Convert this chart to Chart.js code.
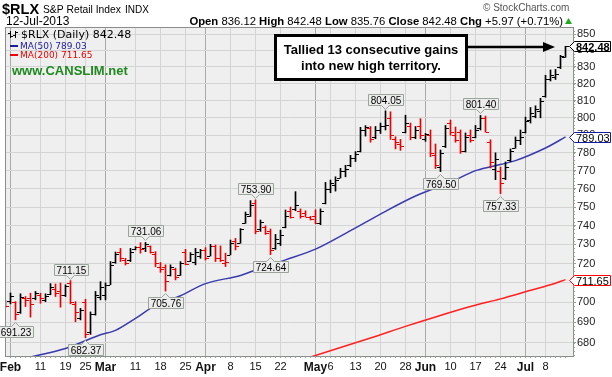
<!DOCTYPE html>
<html>
<head>
<meta charset="utf-8">
<script src="https://cdn.jsdelivr.net/npm/chart.js@4.4.0/dist/chart.umd.min.js"></script>
<style>
html, body { margin: 0; padding: 0; background: #fff; }
canvas { display: block; }
</style>
</head>
<body>
<canvas id="chart" width="612" height="377"></canvas>
<script>
// trading days shown, Jan 31 .. Jul 12 2013
const dates = ['1/31','2/1','2/4','2/5','2/6','2/7','2/8','2/11','2/12','2/13','2/14','2/15','2/19','2/20','2/21','2/22','2/25','2/26','2/27','2/28',
  '3/1','3/4','3/5','3/6','3/7','3/8','3/11','3/12','3/13','3/14','3/15','3/18','3/19','3/20','3/21','3/22','3/25','3/26','3/27','3/28',
  '4/1','4/2','4/3','4/4','4/5','4/8','4/9','4/10','4/11','4/12','4/15','4/16','4/17','4/18','4/19','4/22','4/23','4/24','4/25','4/26','4/29','4/30',
  '5/1','5/2','5/3','5/6','5/7','5/8','5/9','5/10','5/13','5/14','5/15','5/16','5/17','5/20','5/21','5/22','5/23','5/24','5/28','5/29','5/30','5/31',
  '6/3','6/4','6/5','6/6','6/7','6/10','6/11','6/12','6/13','6/14','6/17','6/18','6/19','6/20','6/21','6/24','6/25','6/26','6/27','6/28',
  '7/1','7/2','7/3','7/5','7/8','7/9','7/10','7/11','7/12'];

const opens = [699.5,700.5,700.0,695.0,702.0,702.5,702.0,704.0,701.0,704.5,707.0,706.0,704.0,710.0,699.0,692.0,700.0,685.0,694.0,703.0,
  704.0,709.0,721.0,726.0,722.0,722.0,727.5,728.5,728.0,729.0,725.0,718.0,718.0,714.0,717.0,714.0,726.0,721.5,721.0,724.0,
  727.0,724.0,729.0,723.0,720.0,724.5,732.0,731.0,741.5,745.0,752.0,738.0,739.0,737.0,728.0,731.0,739.0,748.0,749.0,748.0,747.0,744.5,
  745.0,741.5,752.0,760.0,762.0,766.0,770.0,773.0,777.0,781.0,793.0,794.0,789.0,793.0,795.0,800.0,788.0,785.0,792.0,795.0,789.0,795.0,
  788.0,790.0,779.0,772.0,784.0,797.0,790.0,792.0,781.0,790.0,789.0,794.0,800.0,786.0,771.0,770.0,766.0,776.0,783.0,787.0,
  792.0,799.0,801.0,804.0,813.0,823.0,824.0,830.0,836.12];
const highs = [701.0,704.8,700.4,704.4,703.0,704.7,705.6,704.7,704.4,709.6,709.4,709.9,709.0,711.15,700.4,697.0,701.6,695.2,705.6,710.6,
  710.0,721.0,726.0,727.9,722.7,727.9,728.8,730.9,731.06,729.2,726.2,720.5,719.3,719.3,717.6,721.0,727.4,725.7,727.9,727.4,
  728.3,730.0,729.7,729.2,725.4,732.3,733.2,738.4,747.3,753.5,753.90,743.0,739.9,738.2,735.3,737.6,748.4,750.0,758.4,749.0,748.0,745.0,
  748.5,749.0,763.5,764.8,766.6,771.3,773.0,778.6,780.7,794.5,795.5,795.0,795.0,797.0,804.05,803.5,789.1,787.6,801.5,797.0,795.0,799.5,
  791.0,793.0,785.0,781.6,795.6,798.7,794.7,793.0,791.3,793.0,795.6,801.40,801.0,787.4,780.0,772.0,774.9,782.2,789.0,793.0,
  800.4,806.0,807.0,811.4,825.0,828.2,828.5,837.0,842.48];
const lows = [697.5,699.3,691.23,694.5,697.9,692.6,701.3,699.6,700.4,703.9,703.0,697.6,703.0,699.3,690.3,691.2,682.37,684.0,693.6,701.3,
  701.3,709.0,720.1,721.0,719.2,721.0,727.1,725.4,726.2,725.4,718.4,715.4,705.76,713.5,711.5,713.8,719.3,721.0,719.3,722.7,
  721.8,723.9,721.0,721.0,718.4,724.5,727.1,730.6,741.2,744.9,735.6,736.9,735.3,724.64,727.4,729.4,738.8,744.0,748.0,744.0,744.6,743.0,
  741.0,740.5,751.7,757.8,758.7,765.9,766.6,772.2,775.1,780.5,789.5,786.0,788.0,791.0,793.0,787.6,782.2,781.4,791.3,787.4,788.0,788.0,
  786.5,777.8,771.2,769.50,783.0,790.0,786.0,779.7,780.5,786.0,788.5,793.0,791.8,771.5,765.0,757.33,765.0,775.0,782.6,784.6,
  791.3,797.0,800.0,800.0,812.0,821.6,822.5,829.0,835.76];
const closes = [698.3,703.5,694.0,703.0,701.0,699.0,705.0,702.0,703.5,708.0,705.0,704.0,708.5,700.0,695.0,696.0,684.0,694.0,704.0,708.0,
  709.0,719.0,725.0,723.0,720.5,726.0,728.5,727.5,730.0,726.0,720.0,717.0,711.0,718.0,713.0,720.0,719.6,725.0,726.0,727.0,
  723.0,729.0,723.0,722.0,721.0,731.0,729.0,738.0,746.0,751.0,737.0,742.0,736.0,727.0,733.0,735.0,745.0,744.5,751.0,745.0,744.7,743.5,
  741.5,748.0,760.0,763.0,765.0,770.0,771.0,777.0,779.5,793.0,794.5,788.0,793.0,795.0,796.0,790.0,786.0,784.0,797.0,789.0,793.0,790.0,
  790.5,780.0,773.0,780.0,794.0,792.0,787.0,781.0,789.0,787.0,793.0,800.0,792.0,775.0,776.5,763.0,772.0,781.0,787.0,789.0,
  798.0,803.0,805.0,810.0,823.0,825.0,826.0,836.51,842.48];

// moving averages at these days
const ma50Dates = ['2/6','2/19','2/28','3/5','3/11','3/15','3/22','4/1','4/10','4/16','4/23','5/1','5/10','5/21','5/30','6/10','6/17','6/20','6/27','7/8','7/12'];
const ma50Vals = [672.3,677.1,683.8,686.0,692.0,698.5,703.4,709.6,713.8,717.6,721.9,727.5,737.3,747.7,756.0,763.7,770.0,772.2,775.6,782.7,789.03];
const ma200Dates = ['4/30','5/16','5/28','6/5','6/14','6/24','7/1','7/9','7/12'];
const ma200Vals = [672.9,682.2,688.0,692.7,697.9,701.8,705.4,709.0,711.65];

// axis ticks
const tickDates = ['2/1','2/11','2/19','2/25','3/1','3/11','3/18','3/25','4/1','4/8','4/15','4/22','5/1','5/6','5/13','5/20','5/28','6/3','6/10','6/17','6/24','7/1','7/8'];
const tickLabels = ['Feb','11','19','25','Mar','11','18','25','Apr','8','15','22','May','6','13','20','28','Jun','10','17','24','Jul','8'];
const yTicks = [680,690,700,710,720,730,740,750,760,770,780,790,800,810,820,830,840,850];

// marked highs / lows
const peakDates = ['2/4','2/20','2/25','3/13','3/19','4/15','4/18','5/21','6/6','6/18','6/24'];
const peakSide = ['low','high','low','high','low','high','low','high','low','high','low'];

const idx = d => dates.indexOf(d);
const tickIdx = tickDates.map(idx);
const isMonth = v => { const k = tickIdx.indexOf(v); return k >= 0 && /[A-Za-z]/.test(tickLabels[k]); };
const RED = '#ee0000', BLACK = '#000000', BLUE = '#3a3ab0', MARED = '#ff2020';
const barColor = i => (i > 0 && closes[i] < closes[i - 1]) || (i === 0 && closes[0] < opens[0]) ? RED : BLACK;
const last = closes.length - 1;

Chart.defaults.font.family = '"Liberation Sans", Arial, sans-serif';

const bgPlugin = {
  id: 'bgPlugin',
  beforeDraw(chart) {
    const { ctx, chartArea: a } = chart;
    ctx.save();
    ctx.fillStyle = '#ffffff';
    ctx.fillRect(0, 0, chart.width, chart.height);
    ctx.fillStyle = '#efefef';
    ctx.fillRect(a.left, a.top, a.right - a.left, a.bottom - a.top);
    ctx.restore();
  }
};

// open / close ticks of the OHLC bars
const ohlcTicks = {
  id: 'ohlcTicks',
  afterDatasetsDraw(chart) {
    const { ctx, chartArea: a, scales: { x, y } } = chart;
    ctx.save();
    ctx.beginPath();
    ctx.rect(a.left, a.top, a.right - a.left, a.bottom - a.top);
    ctx.clip();
    for (let i = 0; i < closes.length; i++) {
      const px = Math.floor(x.getPixelForValue(i));
      ctx.fillStyle = barColor(i);
      ctx.fillRect(px - 3, Math.round(y.getPixelForValue(opens[i])), 3, 1);
      ctx.fillRect(px + 1, Math.round(y.getPixelForValue(closes[i])), 3, 1);
    }
    ctx.restore();
  }
};

const decor = {
  id: 'decor',
  afterDraw(chart) {
    const { ctx, chartArea: a, scales: { x, y } } = chart;
    ctx.save();

    // frame and small ticks
    ctx.strokeStyle = '#8c8c8c';
    ctx.lineWidth = 1;
    ctx.strokeRect(a.left - 0.5, a.top - 0.5, a.right - a.left + 1, a.bottom - a.top + 1);
    ctx.fillStyle = '#8fa58f';
    for (let v = 674; v <= 852; v += 2) {
      ctx.fillRect(a.right, Math.round(y.getPixelForValue(v)), 2, 1);
    }
    for (let i = 0; i < dates.length; i++) {
      const px = Math.floor(x.getPixelForValue(i));
      if (px >= a.left) ctx.fillRect(px, a.bottom, 1, 2);
    }

    // peak labels
    ctx.font = '10px "Liberation Sans", Arial';
    ctx.textAlign = 'center';
    ctx.textBaseline = 'alphabetic';
    peakDates.forEach((d, k) => {
      const i = idx(d);
      const below = peakSide[k] === 'low';
      const v = below ? lows[i] : highs[i];
      const px = Math.floor(x.getPixelForValue(i)) + 0.5;
      const py = y.getPixelForValue(v);
      const t = v.toFixed(2);
      const w = Math.round(ctx.measureText(t).width) + 4, h = 11;
      const bx = Math.round(px - w / 2) + 0.5;
      const by = below ? Math.round(py + 6) + 0.5 : Math.round(py - 6 - h) + 0.5;
      ctx.beginPath();
      if (below) {
        ctx.moveTo(bx, by); ctx.lineTo(px - 4, by); ctx.lineTo(px, by - 4); ctx.lineTo(px + 4, by);
        ctx.lineTo(bx + w, by); ctx.lineTo(bx + w, by + h); ctx.lineTo(bx, by + h);
      } else {
        ctx.moveTo(bx, by); ctx.lineTo(bx + w, by); ctx.lineTo(bx + w, by + h); ctx.lineTo(px + 4, by + h);
        ctx.lineTo(px, by + h + 4); ctx.lineTo(px - 4, by + h); ctx.lineTo(bx, by + h);
      }
      ctx.closePath();
      ctx.fillStyle = '#ececec';
      ctx.fill();
      ctx.strokeStyle = '#9ba49b';
      ctx.stroke();
      ctx.fillStyle = '#000';
      ctx.fillText(t, bx + w / 2, by + h - 2);
    });

    // price tags on the right axis
    const tag = (v, color, bold) => {
      const cy = Math.round(y.getPixelForValue(v)) + 0.5;
      const x0 = a.right - 3.5, x1 = a.right + 1.5, x2 = 610.5;
      ctx.beginPath();
      ctx.moveTo(x0, cy); ctx.lineTo(x1, cy - 5); ctx.lineTo(x2, cy - 5);
      ctx.lineTo(x2, cy + 5); ctx.lineTo(x1, cy + 5); ctx.closePath();
      ctx.fillStyle = '#fff';
      ctx.fill();
      ctx.strokeStyle = color;
      ctx.lineWidth = 1;
      ctx.stroke();
      ctx.font = (bold ? 'bold ' : '') + '11px "Liberation Sans", Arial';
      ctx.textAlign = 'left';
      ctx.fillStyle = '#000';
      ctx.fillText(v.toFixed(2), x1 + 1.5, cy + 4);
    };
    tag(closes[last], '#000', true);
    tag(ma50Vals[ma50Vals.length - 1], '#1a1aa0', false);
    tag(ma200Vals[ma200Vals.length - 1], '#ff0000', false);

    // header
    ctx.textAlign = 'left';
    ctx.fillStyle = '#000';
    ctx.font = 'bold 14.5px "Liberation Sans", Arial';
    ctx.fillText('$RLX', 2, 14);
    ctx.font = '10.3px "Liberation Sans", Arial';
    ctx.fillText('S&P Retail Index', 43, 13);
    ctx.font = '10px "Liberation Sans", Arial';
    ctx.fillText('INDX', 125, 13);
    ctx.font = '12px "Liberation Sans", Arial';
    ctx.fillText('12-Jul-2013', 6, 25);
    ctx.fillStyle = '#555';
    ctx.font = '10px "Liberation Sans", Arial';
    ctx.fillText('\u00a9 StockCharts.com', 483, 11);

    const chg = closes[last] - closes[last - 1];
    const parts = [
      ['Open', true], [' ' + opens[last].toFixed(2) + ' ', false],
      ['High', true], [' ' + highs[last].toFixed(2) + ' ', false],
      ['Low', true], [' ' + lows[last].toFixed(2) + ' ', false],
      ['Close', true], [' ' + closes[last].toFixed(2) + ' ', false],
      ['Chg', true], [' +' + chg.toFixed(2) + ' (+' + (chg / closes[last - 1] * 100).toFixed(2) + '%)', false]
    ];
    const fontOf = b => (b ? 'bold ' : '') + '11.3px "Liberation Sans", Arial';
    let total = 0;
    parts.forEach(([s, b]) => { ctx.font = fontOf(b); total += ctx.measureText(s).width; });
    let cx = 563 - total;
    ctx.fillStyle = '#000';
    parts.forEach(([s, b]) => { ctx.font = fontOf(b); ctx.fillText(s, cx, 25); cx += ctx.measureText(s).width; });
    ctx.fillStyle = '#22aa22';
    ctx.beginPath();
    ctx.moveTo(565, 24); ctx.lineTo(572, 24); ctx.lineTo(568.5, 18); ctx.closePath();
    ctx.fill();

    // legend inside the plot
    ctx.fillStyle = '#000';
    ctx.fillRect(10, 31, 1, 7); ctx.fillRect(8, 33, 2, 1); ctx.fillRect(11, 36, 2, 1);
    ctx.fillRect(15, 31, 1, 7); ctx.fillRect(13, 35, 2, 1); ctx.fillRect(16, 32, 2, 1);
    ctx.font = '11px "DejaVu Sans", Verdana';
    ctx.fillText('$RLX (Daily) ' + closes[last].toFixed(2), 21, 38);
    ctx.fillStyle = '#1a1aa0';
    ctx.fillRect(10, 45, 8, 2);
    ctx.font = '9px "DejaVu Sans", Verdana';
    ctx.fillText('MA(50) ' + ma50Vals[ma50Vals.length - 1].toFixed(2), 20, 49);
    ctx.fillStyle = '#ee0000';
    ctx.fillRect(10, 54, 8, 2);
    ctx.fillText('MA(200) ' + ma200Vals[ma200Vals.length - 1].toFixed(2), 20, 58);
    ctx.fillStyle = '#1f8a1f';
    ctx.font = 'bold 13px "Liberation Sans", Arial';
    ctx.fillText('www.CANSLIM.net', 12, 75);

    // annotation box with arrow
    ctx.fillStyle = '#fff';
    ctx.fillRect(274, 34, 194, 47);
    ctx.strokeStyle = '#000';
    ctx.lineWidth = 3;
    ctx.strokeRect(275.5, 35.5, 191, 44);
    ctx.fillStyle = '#000';
    ctx.font = 'bold 13px "Liberation Sans", Arial';
    ctx.textAlign = 'center';
    ctx.fillText('Tallied 13 consecutive gains', 371, 54);
    ctx.fillText('into new high territory.', 371, 70);
    ctx.lineWidth = 2.5;
    ctx.beginPath();
    ctx.moveTo(468, 47); ctx.lineTo(546, 47);
    ctx.stroke();
    ctx.beginPath();
    ctx.moveTo(543, 42); ctx.lineTo(555, 47); ctx.lineTo(543, 52); ctx.closePath();
    ctx.fill();

    ctx.restore();
  }
};

new Chart(document.getElementById('chart'), {
  type: 'bar',
  data: {
    datasets: [
      {
        label: '$RLX',
        data: highs.map((h, i) => ({ x: i, y: [lows[i], h] })),
        backgroundColor: closes.map((c, i) => barColor(i)),
        barThickness: 1,
        grouped: false,
        order: 0,
        clip: 0
      },
      {
        type: 'line',
        label: 'MA(50)',
        data: ma50Dates.map((d, k) => ({ x: idx(d), y: ma50Vals[k] })),
        borderColor: BLUE,
        borderWidth: 1.5,
        pointRadius: 0,
        tension: 0.3,
        order: 1,
        clip: 0
      },
      {
        type: 'line',
        label: 'MA(200)',
        data: ma200Dates.map((d, k) => ({ x: idx(d), y: ma200Vals[k] })),
        borderColor: MARED,
        borderWidth: 1.5,
        pointRadius: 0,
        tension: 0.3,
        order: 2,
        clip: 0
      }
    ]
  },
  options: {
    responsive: false,
    animation: false,
    events: [],
    layout: { autoPadding: false, padding: { left: 6, top: 28, right: 0, bottom: 0 } },
    plugins: { legend: { display: false }, tooltip: { enabled: false } },
    scales: {
      x: {
        type: 'linear',
        offset: false,
        min: 0.1,
        max: 113.5,
        afterBuildTicks: s => { s.ticks = tickIdx.map(v => ({ value: v })); },
        afterFit: s => { s.height = 21; s.paddingLeft = 0; s.paddingRight = 0; },
        border: { display: false },
        grid: {
          offset: false,
          color: c => (c.tick && isMonth(c.tick.value) ? '#a9a9a9' : '#d4d4d4'),
          drawTicks: false
        },
        ticks: {
          autoSkip: false,
          maxRotation: 0,
          minRotation: 0,
          padding: 4,
          color: '#111',
          callback: (v, k) => tickLabels[k],
          font: c => (c.tick && isMonth(c.tick.value) ? { size: 12, weight: 'bold' } : { size: 11 })
        }
      },
      y: {
        type: 'logarithmic',
        position: 'right',
        min: 673.4,
        max: 853.7,
        afterBuildTicks: s => { s.ticks = yTicks.map(v => ({ value: v })); },
        afterFit: s => { s.width = 39; s.paddingTop = 0; s.paddingBottom = 0; },
        border: { display: false },
        grid: { color: '#d4d4d4', tickLength: 3, tickColor: '#8fa58f' },
        ticks: {
          padding: 1,
          color: '#222',
          font: { size: 11 },
          callback: v => String(v)
        }
      }
    }
  },
  plugins: [bgPlugin, ohlcTicks, decor]
});
</script>
</body>
</html>
